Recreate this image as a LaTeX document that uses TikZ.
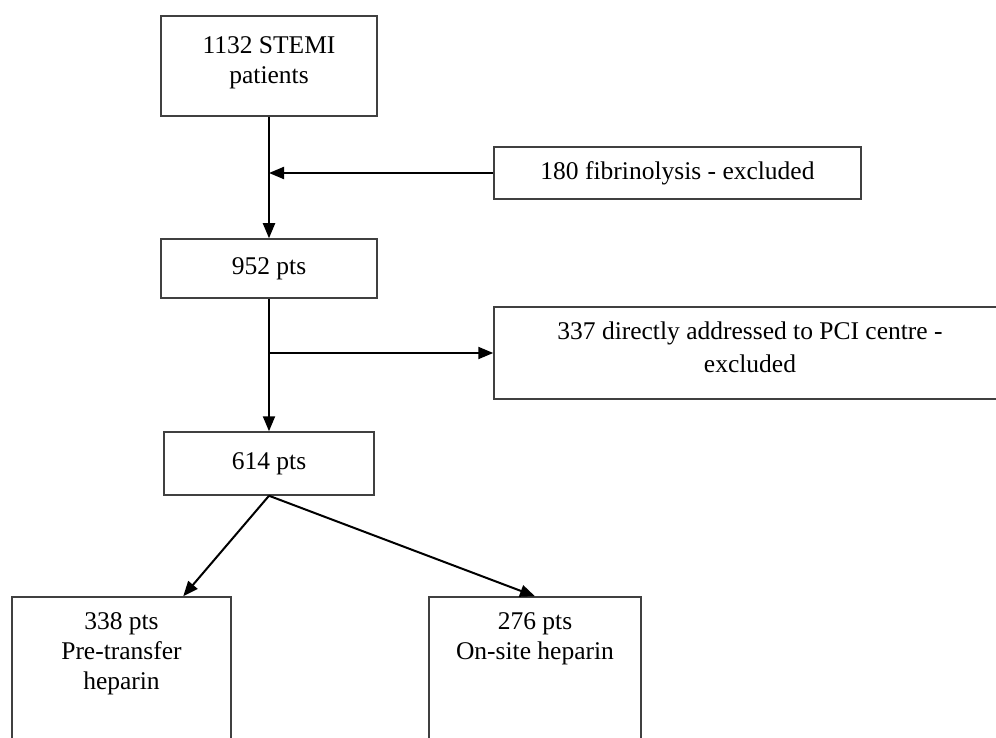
\documentclass[tikz,border=0pt]{standalone}
\usepackage{fontspec}
\setmainfont{Liberation Serif}
\usetikzlibrary{arrows.meta,calc}
\tikzset{
  box/.style={draw=black!75, line width=1.5pt, rectangle, align=center, inner sep=0pt,
    font=\fontsize{25.5}{30}\selectfont},
  arr/.style={draw=black, line width=2pt, -{Triangle[length=15pt,width=12pt]}},
}
\begin{document}
\begin{tikzpicture}[x=1pt,y=-1pt]
\useasboundingbox (0,0) rectangle (996,738);
\clip (0,0) rectangle (996,738);
\node[box, minimum width=216pt, minimum height=100pt] (b1) at (269,66) {1132 STEMI\\patients\\[-18pt]\rule{0pt}{0pt}};
\node[box, minimum width=367pt, minimum height=52pt] (b2) at (677.5,173) {180 fibrinolysis - excluded};
\node[box, minimum width=216pt, minimum height=59pt] (b3) at (269,268.5) {952 pts};
\node[box, minimum width=512pt, minimum height=92pt, font=\fontsize{25.5}{33}\selectfont] (b4) at (750,353) {337 directly addressed to PCI centre -\\excluded\\[-22pt]\rule{0pt}{0pt}};
\node[box, minimum width=210pt, minimum height=63pt] (b5) at (269,463.5) {614 pts};
\node[box, minimum width=219pt, minimum height=170pt] (b6) at (121.5,682) {};
\node[box, minimum width=212pt, minimum height=170pt] (b7) at (535,682) {};
\node[box, draw=none, anchor=north] (t6) at (121.5,612) {338 pts\\Pre-transfer\\heparin};
\node[box, draw=none, anchor=north] (t7) at (535,612) {276 pts\\On-site heparin};
\draw[arr] (b1.south) -- (b3.north);
\draw[arr] (b2.west) -- (b2.west -| b1.south);
\draw[arr] (b3.south) -- (b5.north);
\coordinate (j2) at (b4.west -| b3.south);
\draw[arr] (j2) -- (b4.west);
\draw[arr] (b5.south) -- ($(b6.north west)!0.78!(b6.north east)$);
\draw[arr] (b5.south) -- (b7.north);
\end{tikzpicture}
\end{document}
